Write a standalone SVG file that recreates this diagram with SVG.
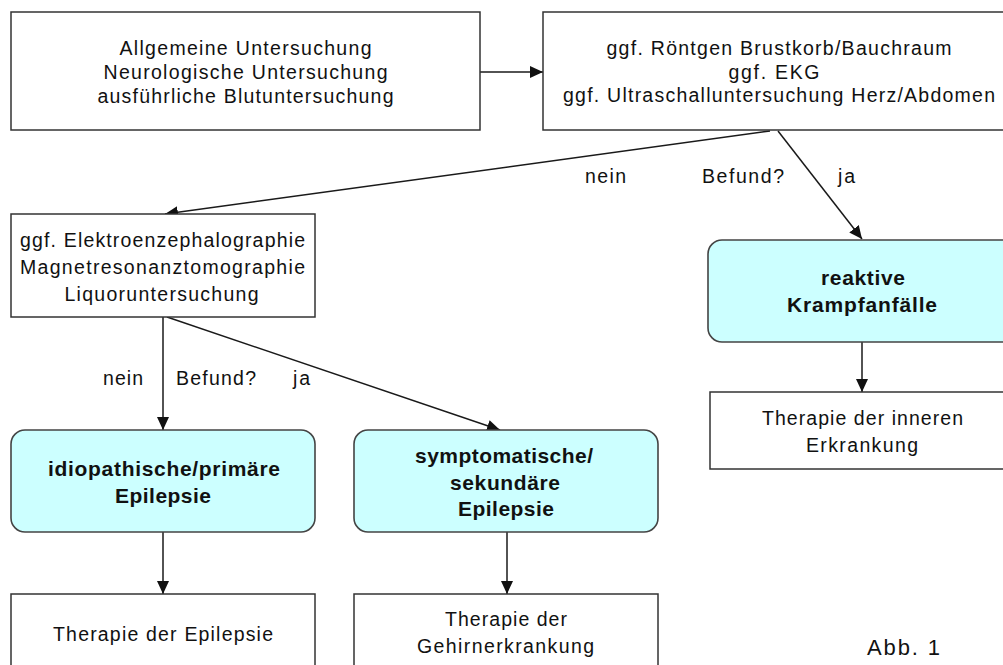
<svg xmlns="http://www.w3.org/2000/svg" width="1003" height="665" viewBox="0 0 1003 665">
<style>
.box{fill:#ffffff;stroke:#333333;stroke-width:1.5}
.hl{fill:#ccffff;stroke:#444444;stroke-width:1.6}
.t{font-family:"Liberation Sans",Arial,sans-serif;font-size:19.5px;fill:#111111;text-anchor:middle}
.b{font-family:"Liberation Sans",Arial,sans-serif;font-size:21px;font-weight:bold;fill:#111111;text-anchor:middle}
.lbl{font-family:"Liberation Sans",Arial,sans-serif;font-size:19.5px;fill:#111111}
.c{fill:none;stroke:#1a1a1a;stroke-width:1.5;marker-end:url(#ah)}
</style>
<defs>
<marker id="ah" markerUnits="userSpaceOnUse" markerWidth="13" markerHeight="12" refX="13" refY="6" orient="auto" viewBox="0 0 13 12">
<path d="M0,0 L13,6 L0,12 z" fill="#111111"/>
</marker>
</defs>
<rect width="1003" height="665" fill="#ffffff"/>

<g id="connectors">
<line class="c" x1="480" y1="72" x2="543" y2="72"/>
<line class="c" x1="770" y1="131" x2="165" y2="214"/>
<line class="c" x1="778" y1="131" x2="862" y2="239"/>
<line class="c" x1="862" y1="342" x2="862" y2="392"/>
<line class="c" x1="163" y1="317" x2="163" y2="430"/>
<line class="c" x1="167" y1="317" x2="500" y2="430"/>
<line class="c" x1="163" y1="532" x2="163" y2="594"/>
<line class="c" x1="507" y1="532" x2="507" y2="594"/>
<text class="lbl" x="585" y="183" textLength="41" lengthAdjust="spacing">nein</text>
<text class="lbl" x="702" y="183" textLength="82" lengthAdjust="spacing">Befund?</text>
<text class="lbl" x="838" y="183" textLength="17" lengthAdjust="spacing">ja</text>
<text class="lbl" x="103" y="385" textLength="40" lengthAdjust="spacing">nein</text>
<text class="lbl" x="176" y="385" textLength="80" lengthAdjust="spacing">Befund?</text>
<text class="lbl" x="293" y="385" textLength="17" lengthAdjust="spacing">ja</text>
</g>

<g id="n1">
<rect class="box" x="11" y="12" width="469" height="118"/>
<text class="t" x="245.5" y="54.5" textLength="252" lengthAdjust="spacing">Allgemeine Untersuchung</text>
<text class="t" x="245.5" y="78.5" textLength="284" lengthAdjust="spacing">Neurologische Untersuchung</text>
<text class="t" x="245.5" y="102.5" textLength="296" lengthAdjust="spacing">ausführliche Blutuntersuchung</text>
</g>

<g id="n2">
<rect class="box" x="543" y="12" width="463" height="118"/>
<text class="t" x="779" y="54.5" textLength="345" lengthAdjust="spacing">ggf. Röntgen Brustkorb/Bauchraum</text>
<text class="t" x="774" y="78.5" textLength="91" lengthAdjust="spacing">ggf. EKG</text>
<text class="t" x="779" y="102" textLength="432" lengthAdjust="spacing">ggf. Ultraschalluntersuchung Herz/Abdomen</text>
</g>

<g id="n3">
<rect class="box" x="11" y="214" width="304" height="103"/>
<text class="t" x="162.5" y="247" textLength="285" lengthAdjust="spacing">ggf. Elektroenzephalographie</text>
<text class="t" x="162.5" y="274" textLength="285" lengthAdjust="spacing">Magnetresonanztomographie</text>
<text class="t" x="161.5" y="301" textLength="194" lengthAdjust="spacing">Liquoruntersuchung</text>
</g>

<g id="n4">
<rect class="hl" x="708" y="240" width="308" height="102" rx="14" ry="14"/>
<text class="b" x="863" y="285" textLength="84" lengthAdjust="spacing">reaktive</text>
<text class="b" x="862" y="312" textLength="150" lengthAdjust="spacing">Krampfanfälle</text>
</g>

<g id="n5">
<rect class="box" x="710" y="392" width="300" height="77"/>
<text class="t" x="862.5" y="424.5" textLength="201" lengthAdjust="spacing">Therapie der inneren</text>
<text class="t" x="862" y="452" textLength="112" lengthAdjust="spacing">Erkrankung</text>
</g>

<g id="n6">
<rect class="hl" x="11" y="430" width="304" height="102" rx="14" ry="14"/>
<text class="b" x="164" y="475.5" textLength="232" lengthAdjust="spacing">idiopathische/primäre</text>
<text class="b" x="163" y="502.5" textLength="96" lengthAdjust="spacing">Epilepsie</text>
</g>

<g id="n7">
<rect class="hl" x="354" y="430" width="304" height="102" rx="14" ry="14"/>
<text class="b" x="504" y="462.5" textLength="178" lengthAdjust="spacing">symptomatische/</text>
<text class="b" x="505" y="489.5" textLength="110" lengthAdjust="spacing">sekundäre</text>
<text class="b" x="506" y="516" textLength="96" lengthAdjust="spacing">Epilepsie</text>
</g>

<g id="n8">
<rect class="box" x="11" y="594" width="304" height="80"/>
<text class="t" x="163" y="641" textLength="220" lengthAdjust="spacing">Therapie der Epilepsie</text>
</g>

<g id="n9">
<rect class="box" x="354" y="594" width="304" height="80"/>
<text class="t" x="506" y="626" textLength="122" lengthAdjust="spacing">Therapie der</text>
<text class="t" x="505.5" y="653" textLength="177" lengthAdjust="spacing">Gehirnerkrankung</text>
</g>

<text class="t" x="903.5" y="655" style="font-size:22px" textLength="73" lengthAdjust="spacing">Abb. 1</text>
</svg>
